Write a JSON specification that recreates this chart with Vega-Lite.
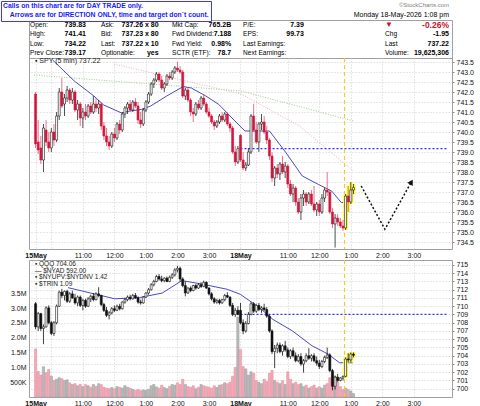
{
"$schema": "https://vega.github.io/schema/vega-lite/v6.json",
"padding": 0,
"background": "white",
"bounds": "flush",
"spacing": 0,
"config": {
 "font": "Liberation Sans",
 "view": {"stroke": "#a0a0a0"},
 "axis": {"labelFont": "Liberation Sans", "labelFontSize": 7, "labelColor": "#111", "gridColor": "#d0d0d0", "gridDash": [1, 2], "domain": false, "title": null, "tickColor": "#888", "labelOverlap": false},
 "legend": {"labelFont": "Liberation Sans", "titleFont": "Liberation Sans"},
 "text": {"font": "Liberation Sans"},
 "title": {"font": "Liberation Sans", "subtitleFont": "Liberation Sans"}
},
"datasets": {
 "info": [
  {"row":"r1","col":"c1","lab":"Open:","val":"739.83"},
  {"row":"r2","col":"c1","lab":"High:","val":"741.41"},
  {"row":"r3","col":"c1","lab":"Low:","val":"734.22"},
  {"row":"r4","col":"c1","lab":"Prev Close:","val":"739.17"},
  {"row":"r1","col":"c2","lab":"Ask:","val":"737.26 x 80"},
  {"row":"r2","col":"c2","lab":"Bid:","val":"737.23 x 80"},
  {"row":"r3","col":"c2","lab":"Last:","val":"737.22 x 10"},
  {"row":"r4","col":"c2","lab":"Optionable:","val":"yes"},
  {"row":"r1","col":"c3","lab":"Mkt Cap:","val":"765.2B"},
  {"row":"r2","col":"c3","lab":"Fwd Dividend:","val":"7.188"},
  {"row":"r3","col":"c3","lab":"Fwd Yield:","val":"0.98%"},
  {"row":"r4","col":"c3","lab":"SCTR (ETF):","val":"78.7"},
  {"row":"r1","col":"c4","lab":"P/E:","val":"7.39"},
  {"row":"r2","col":"c4","lab":"EPS:","val":"99.73"},
  {"row":"r3","col":"c4","lab":"Last Earnings:","val":""},
  {"row":"r4","col":"c4","lab":"Next Earnings:","val":""},
  {"row":"r1","col":"c6","lab":"  ▼","val":"-0.26%"},
  {"row":"r2","col":"c6","lab":"Chg","val":"-1.95"},
  {"row":"r3","col":"c6","lab":"Last","val":"737.22"},
  {"row":"r4","col":"c6","lab":"Volume:","val":"19,625,306"}
 ],
 "ma": [
  {"t":0.54,"p":743.6},{"t":1.23,"p":742.55},{"t":1.85,"p":741.8},{"t":2.16,"p":741.35},{"t":2.73,"p":740.95},{"t":2.99,"p":741.05},{"t":3.36,"p":741.13},{"t":3.65,"p":741.3},{"t":4.16,"p":741.8},{"t":4.68,"p":742.27},{"t":4.94,"p":742.2},{"t":5.4,"p":741.8},{"t":5.81,"p":741.38},{"t":6.23,"p":740.7},{"t":6.64,"p":740.05},{"t":7.42,"p":740.05},{"t":7.94,"p":738.97},{"t":8.46,"p":737.8},{"t":8.97,"p":737.38},{"t":9.39,"p":737.05},{"t":9.7,"p":736.47},{"t":10.06,"p":736.55}
 ],
 "qma": [
  {"t":1.03,"p":712.25},{"t":2.51,"p":710.9},{"t":3.3,"p":711.05},{"t":4.02,"p":711.6},{"t":4.64,"p":713.1},{"t":5.26,"p":712.7},{"t":6.08,"p":712.05},{"t":6.49,"p":711.45},{"t":7.11,"p":709.8},{"t":7.53,"p":708.4},{"t":8.15,"p":707.0},{"t":8.77,"p":705.2},{"t":9.28,"p":704.2},{"t":9.64,"p":703.15},{"t":10.06,"p":703.15}
 ],
 "ma2": [
  {"s":"g","t":-0.05,"p":742.85},{"s":"g","t":6.52,"p":742.05},{"s":"g","t":10.08,"p":740.55},
  {"s":"p","t":2.49,"p":743.4},{"s":"p","t":6.52,"p":741.9},{"s":"p","t":8.37,"p":740.3},{"s":"p","t":10.08,"p":738.05}
 ],
 "arrow": [
  {"k":1,"t":10.33,"p":737.3},{"k":2,"t":11.08,"p":735.14},{"k":3,"t":11.92,"p":737.5}
 ],
 "bars": [
{"t":0,"o":741.9,"h":742,"l":739.2,"c":739.4,"qo":710.3,"qh":710.5,"ql":707.2,"qc":707.5,"v":1620000},
{"t":0.083,"o":739.5,"h":740.6,"l":738.9,"c":739.1,"qo":707.5,"qh":709.3,"ql":707,"qc":709.1,"v":860000},
{"t":0.167,"o":739.2,"h":739.8,"l":738.4,"c":738.6,"qo":709.1,"qh":709.2,"ql":707,"qc":707.3,"v":740000},
{"t":0.25,"o":738.6,"h":740.4,"l":738,"c":740.2,"qo":707.3,"qh":707.8,"ql":705.4,"qc":707.5,"v":1020000},
{"t":0.333,"o":740.1,"h":740.6,"l":739.3,"c":739.5,"qo":707.5,"qh":710,"ql":707.4,"qc":709.8,"v":820000},
{"t":0.417,"o":739.5,"h":740,"l":739,"c":739.2,"qo":709.8,"qh":710.1,"ql":707.8,"qc":708,"v":930000},
{"t":0.5,"o":739.2,"h":740.2,"l":739,"c":740,"qo":708,"qh":708.2,"ql":706.5,"qc":706.7,"v":700000},
{"t":0.583,"o":740,"h":740.4,"l":739.3,"c":739.6,"qo":706.7,"qh":708.2,"ql":706.4,"qc":708,"v":560000},
{"t":0.667,"o":739.6,"h":741,"l":739.5,"c":740.8,"qo":708,"qh":710.2,"ql":707.8,"qc":710,"v":600000},
{"t":0.75,"o":740.8,"h":742.2,"l":740.6,"c":742,"qo":710,"qh":711.9,"ql":709.9,"qc":711.7,"v":650000},
{"t":0.833,"o":742,"h":742.7,"l":741.2,"c":741.3,"qo":711.7,"qh":712.1,"ql":711,"qc":711.3,"v":620000},
{"t":0.917,"o":741.4,"h":741.9,"l":740.8,"c":741.7,"qo":711.3,"qh":711.9,"ql":710.7,"qc":711.8,"v":560000},
{"t":1,"o":741.7,"h":742.3,"l":741.5,"c":742.1,"qo":711.8,"qh":712,"ql":710.4,"qc":710.6,"v":580000},
{"t":1.083,"o":742.1,"h":742.2,"l":741.4,"c":741.6,"qo":710.6,"qh":711.7,"ql":710.4,"qc":711.5,"v":480000},
{"t":1.167,"o":741.6,"h":742.2,"l":741.4,"c":742,"qo":711.5,"qh":711.9,"ql":710.9,"qc":711,"v":420000},
{"t":1.25,"o":742,"h":742.1,"l":741,"c":741.1,"qo":711,"qh":711.5,"ql":710.2,"qc":710.4,"v":450000},
{"t":1.333,"o":741.1,"h":741.6,"l":740.6,"c":741.4,"qo":710.4,"qh":711.3,"ql":710,"qc":711.1,"v":380000},
{"t":1.417,"o":741.4,"h":741.5,"l":740.3,"c":740.7,"qo":711.1,"qh":711.3,"ql":709.9,"qc":710.1,"v":430000},
{"t":1.5,"o":740.7,"h":741.2,"l":740.2,"c":741,"qo":710.1,"qh":710.9,"ql":709.5,"qc":710.7,"v":350000},
{"t":1.583,"o":741,"h":741.4,"l":740.6,"c":740.8,"qo":710.7,"qh":710.9,"ql":709.8,"qc":710,"v":420000},
{"t":1.667,"o":740.8,"h":741.4,"l":740.7,"c":741.3,"qo":710,"qh":711.1,"ql":709.9,"qc":710.9,"v":380000},
{"t":1.75,"o":741.3,"h":741.5,"l":740.9,"c":741,"qo":710.9,"qh":711.4,"ql":710.5,"qc":711.2,"v":330000},
{"t":1.833,"o":741,"h":741.8,"l":740.9,"c":741.4,"qo":711.2,"qh":711.6,"ql":710.6,"qc":710.8,"v":420000},
{"t":1.917,"o":741.4,"h":741.7,"l":741,"c":741.2,"qo":710.8,"qh":711.7,"ql":710.7,"qc":711.5,"v":360000},
{"t":2,"o":741.2,"h":741.6,"l":740.9,"c":741.4,"qo":711.5,"qh":712.3,"ql":711.1,"qc":711.3,"v":450000},
{"t":2.083,"o":741.4,"h":741.5,"l":740.1,"c":740.3,"qo":711.3,"qh":711.4,"ql":710,"qc":710.2,"v":420000},
{"t":2.167,"o":740.3,"h":740.5,"l":739.6,"c":739.8,"qo":710.2,"qh":710.4,"ql":709.3,"qc":709.5,"v":330000},
{"t":2.25,"o":739.8,"h":740.2,"l":739.3,"c":739.5,"qo":709.5,"qh":709.9,"ql":708.7,"qc":708.9,"v":300000},
{"t":2.333,"o":739.5,"h":739.8,"l":739.1,"c":739.3,"qo":708.9,"qh":709.4,"ql":708.4,"qc":709.2,"v":280000},
{"t":2.417,"o":739.3,"h":740,"l":739.2,"c":739.9,"qo":709.2,"qh":709.9,"ql":709,"qc":709.7,"v":320000},
{"t":2.5,"o":739.9,"h":740.2,"l":739.5,"c":739.7,"qo":709.7,"qh":710.1,"ql":709.3,"qc":709.5,"v":280000},
{"t":2.583,"o":739.7,"h":740.5,"l":739.6,"c":740.4,"qo":709.5,"qh":710.2,"ql":709.4,"qc":710,"v":350000},
{"t":2.667,"o":740.4,"h":740.6,"l":739.9,"c":740.1,"qo":710,"qh":710.3,"ql":709.5,"qc":709.7,"v":330000},
{"t":2.75,"o":740.1,"h":741,"l":740,"c":740.9,"qo":709.7,"qh":710.6,"ql":709.6,"qc":710.5,"v":300000},
{"t":2.833,"o":740.9,"h":741.3,"l":740.7,"c":741.2,"qo":710.5,"qh":711,"ql":710.3,"qc":710.8,"v":380000},
{"t":2.917,"o":741.2,"h":741.5,"l":740.9,"c":741.4,"qo":710.8,"qh":711.3,"ql":710.6,"qc":711.1,"v":330000},
{"t":3,"o":741.4,"h":741.6,"l":741,"c":741.1,"qo":711.1,"qh":711.4,"ql":710.7,"qc":710.9,"v":300000},
{"t":3.083,"o":741.1,"h":741.6,"l":741,"c":741.5,"qo":710.9,"qh":711.5,"ql":710.8,"qc":711.3,"v":260000},
{"t":3.167,"o":741.5,"h":741.7,"l":741.2,"c":741.3,"qo":711.3,"qh":711.6,"ql":710.9,"qc":711,"v":230000},
{"t":3.25,"o":741.3,"h":741.5,"l":740.4,"c":740.6,"qo":711,"qh":711.2,"ql":710.3,"qc":710.5,"v":250000},
{"t":3.333,"o":740.6,"h":741,"l":740.2,"c":740.4,"qo":710.5,"qh":710.8,"ql":710.2,"qc":710.4,"v":220000},
{"t":3.417,"o":740.4,"h":741.2,"l":740.3,"c":741.1,"qo":710.4,"qh":711.2,"ql":710.3,"qc":711.1,"v":240000},
{"t":3.5,"o":741.1,"h":741.6,"l":741,"c":741.5,"qo":711.1,"qh":711.7,"ql":711,"qc":711.6,"v":220000},
{"t":3.583,"o":741.5,"h":742,"l":741.4,"c":741.9,"qo":711.6,"qh":712.2,"ql":711.4,"qc":712,"v":260000},
{"t":3.667,"o":741.9,"h":742.5,"l":741.8,"c":742.4,"qo":712,"qh":712.8,"ql":711.9,"qc":712.6,"v":380000},
{"t":3.75,"o":742.4,"h":742.7,"l":742.2,"c":742.6,"qo":712.6,"qh":713.2,"ql":712.4,"qc":713,"v":420000},
{"t":3.833,"o":742.6,"h":743,"l":742.5,"c":742.9,"qo":713,"qh":713.8,"ql":712.9,"qc":713.6,"v":340000},
{"t":3.917,"o":742.9,"h":743,"l":742.5,"c":742.6,"qo":713.6,"qh":713.9,"ql":713.1,"qc":713.3,"v":300000},
{"t":4,"o":742.6,"h":742.8,"l":742.1,"c":742.2,"qo":713.3,"qh":713.7,"ql":712.9,"qc":713.1,"v":400000},
{"t":4.083,"o":742.2,"h":742.5,"l":742,"c":742.4,"qo":713.1,"qh":713.5,"ql":712.9,"qc":713.4,"v":320000},
{"t":4.167,"o":742.4,"h":742.9,"l":742.3,"c":742.8,"qo":713.4,"qh":713.6,"ql":712.9,"qc":713,"v":280000},
{"t":4.25,"o":742.8,"h":743,"l":742.6,"c":742.7,"qo":713,"qh":713.7,"ql":712.9,"qc":713.5,"v":360000},
{"t":4.333,"o":742.7,"h":743.1,"l":742.6,"c":743,"qo":713.5,"qh":714,"ql":713.3,"qc":713.8,"v":420000},
{"t":4.417,"o":743,"h":743.3,"l":742.9,"c":743.2,"qo":713.8,"qh":714.6,"ql":713.6,"qc":714.4,"v":400000},
{"t":4.5,"o":743.2,"h":743.5,"l":743,"c":743.1,"qo":714.4,"qh":714.9,"ql":714.1,"qc":714.6,"v":480000},
{"t":4.583,"o":743.1,"h":743.3,"l":742.9,"c":743,"qo":714.6,"qh":714.8,"ql":713,"qc":713.3,"v":420000},
{"t":4.667,"o":743,"h":743.1,"l":741.7,"c":741.8,"qo":713.3,"qh":713.5,"ql":712.3,"qc":712.5,"v":600000},
{"t":4.75,"o":741.8,"h":742.2,"l":741.6,"c":742.1,"qo":712.5,"qh":713,"ql":711.2,"qc":711.6,"v":420000},
{"t":4.833,"o":742.1,"h":742.2,"l":741.5,"c":741.6,"qo":711.6,"qh":712.3,"ql":711.5,"qc":712.2,"v":350000},
{"t":4.917,"o":741.6,"h":741.7,"l":740.8,"c":741,"qo":712.2,"qh":712.4,"ql":711.7,"qc":711.9,"v":330000},
{"t":5,"o":741,"h":741.2,"l":740.5,"c":740.9,"qo":711.9,"qh":712.6,"ql":711.8,"qc":712.5,"v":380000},
{"t":5.083,"o":740.9,"h":741.5,"l":740.8,"c":741.4,"qo":712.5,"qh":712.7,"ql":712,"qc":712.2,"v":280000},
{"t":5.167,"o":741.4,"h":741.6,"l":741.1,"c":741.2,"qo":712.2,"qh":712.8,"ql":712.1,"qc":712.6,"v":330000},
{"t":5.25,"o":741.2,"h":741.8,"l":741.1,"c":741.7,"qo":712.6,"qh":712.9,"ql":712.2,"qc":712.4,"v":420000},
{"t":5.333,"o":741.7,"h":741.9,"l":741.3,"c":741.4,"qo":712.4,"qh":713.1,"ql":712.3,"qc":712.9,"v":380000},
{"t":5.417,"o":741.4,"h":741.5,"l":740.9,"c":741,"qo":712.9,"qh":713,"ql":712.1,"qc":712.2,"v":350000},
{"t":5.5,"o":741,"h":741.2,"l":740.7,"c":740.8,"qo":712.2,"qh":712.3,"ql":711.3,"qc":711.5,"v":330000},
{"t":5.583,"o":740.8,"h":740.9,"l":740.4,"c":740.5,"qo":711.5,"qh":711.7,"ql":710.7,"qc":710.9,"v":300000},
{"t":5.667,"o":740.5,"h":740.6,"l":740.1,"c":740.3,"qo":710.9,"qh":711.1,"ql":710.3,"qc":710.5,"v":380000},
{"t":5.75,"o":740.3,"h":740.6,"l":740.2,"c":740.5,"qo":710.5,"qh":710.9,"ql":710.3,"qc":710.7,"v":320000},
{"t":5.833,"o":740.5,"h":740.9,"l":740.4,"c":740.8,"qo":710.7,"qh":710.9,"ql":710.2,"qc":710.4,"v":400000},
{"t":5.917,"o":740.8,"h":741,"l":740.5,"c":740.6,"qo":710.4,"qh":710.9,"ql":710.3,"qc":710.8,"v":420000},
{"t":6,"o":740.6,"h":741,"l":740.5,"c":740.9,"qo":710.8,"qh":711.5,"ql":710.6,"qc":711.3,"v":480000},
{"t":6.083,"o":740.9,"h":741,"l":740.3,"c":740.4,"qo":711.3,"qh":711.7,"ql":711,"qc":711.1,"v":450000},
{"t":6.167,"o":740.4,"h":740.5,"l":740,"c":740.2,"qo":711.1,"qh":711.2,"ql":709.9,"qc":710.1,"v":500000},
{"t":6.25,"o":740.2,"h":740.3,"l":738.9,"c":739,"qo":710.1,"qh":710.4,"ql":708.8,"qc":709,"v":700000},
{"t":6.333,"o":739,"h":739.3,"l":738.3,"c":738.5,"qo":709,"qh":709.8,"ql":708.7,"qc":709.5,"v":1000000},
{"t":6.417,"o":738.5,"h":739.3,"l":738.4,"c":739.17,"qo":709.5,"qh":710,"ql":708.9,"qc":709,"v":2700000},
{"t":6.5,"o":739.83,"h":739.9,"l":738.5,"c":738.6,"qo":709.5,"qh":710.4,"ql":707.8,"qc":708,"v":1600000},
{"t":6.583,"o":738.6,"h":739,"l":738.1,"c":738.2,"qo":708,"qh":708.4,"ql":706.6,"qc":707,"v":1030000},
{"t":6.667,"o":738.2,"h":738.5,"l":738.05,"c":738.35,"qo":707,"qh":708.2,"ql":706.8,"qc":707.9,"v":950000},
{"t":6.75,"o":738.35,"h":739.2,"l":738.3,"c":739,"qo":707.9,"qh":709.3,"ql":707.8,"qc":709,"v":740000},
{"t":6.833,"o":739,"h":740.9,"l":738.9,"c":740.8,"qo":709,"qh":710.5,"ql":708.9,"qc":710.3,"v":850000},
{"t":6.917,"o":740.8,"h":741.41,"l":740,"c":740.1,"qo":710.3,"qh":710.5,"ql":709.2,"qc":709.4,"v":800000},
{"t":7,"o":740.1,"h":740.5,"l":739.4,"c":739.5,"qo":709.4,"qh":710.3,"ql":709.2,"qc":710.1,"v":560000},
{"t":7.083,"o":739.5,"h":740.5,"l":739,"c":740.4,"qo":710.1,"qh":710.4,"ql":709.4,"qc":709.6,"v":500000},
{"t":7.167,"o":740.4,"h":740.9,"l":740.1,"c":740.5,"qo":709.6,"qh":710,"ql":709.2,"qc":709.8,"v":450000},
{"t":7.25,"o":740.5,"h":740.8,"l":739.9,"c":740,"qo":709.8,"qh":710.3,"ql":709.4,"qc":709.6,"v":600000},
{"t":7.333,"o":740,"h":740.3,"l":739.4,"c":739.6,"qo":709.6,"qh":709.9,"ql":708.6,"qc":708.8,"v":520000},
{"t":7.417,"o":739.6,"h":739.7,"l":738.6,"c":738.8,"qo":708.8,"qh":709,"ql":706.8,"qc":707,"v":800000},
{"t":7.5,"o":738.8,"h":739,"l":737.5,"c":737.7,"qo":707,"qh":707.2,"ql":704.2,"qc":704.5,"v":900000},
{"t":7.583,"o":737.7,"h":738.3,"l":737.3,"c":738.2,"qo":704.5,"qh":705.3,"ql":702.5,"qc":704.9,"v":560000},
{"t":7.667,"o":738.2,"h":738.4,"l":737.7,"c":737.9,"qo":704.9,"qh":705.6,"ql":704.3,"qc":705.3,"v":500000},
{"t":7.75,"o":737.9,"h":738.5,"l":737.6,"c":738.4,"qo":705.3,"qh":705.6,"ql":704.3,"qc":704.5,"v":450000},
{"t":7.833,"o":738.4,"h":738.8,"l":737.9,"c":738,"qo":704.5,"qh":705.4,"ql":704,"qc":705.2,"v":550000},
{"t":7.917,"o":738,"h":738.5,"l":737.7,"c":738.3,"qo":705.2,"qh":705.8,"ql":704.5,"qc":704.7,"v":420000},
{"t":8,"o":738.3,"h":738.4,"l":737.2,"c":737.4,"qo":704.7,"qh":705,"ql":703.7,"qc":703.9,"v":850000},
{"t":8.083,"o":737.4,"h":737.6,"l":736.8,"c":736.9,"qo":703.9,"qh":704.8,"ql":703.6,"qc":704.6,"v":600000},
{"t":8.167,"o":736.9,"h":737.4,"l":736.5,"c":737.2,"qo":704.6,"qh":705,"ql":703.8,"qc":704,"v":450000},
{"t":8.25,"o":737.2,"h":737.3,"l":736.3,"c":736.5,"qo":704,"qh":704.4,"ql":703.2,"qc":703.4,"v":500000},
{"t":8.333,"o":736.5,"h":736.7,"l":735.9,"c":736,"qo":703.4,"qh":704.2,"ql":703.2,"qc":703.9,"v":420000},
{"t":8.417,"o":736,"h":736.9,"l":735.6,"c":736.7,"qo":703.9,"qh":704.3,"ql":702.8,"qc":703,"v":450000},
{"t":8.5,"o":736.7,"h":737.1,"l":736.3,"c":736.9,"qo":703,"qh":703.6,"ql":701.95,"qc":703.4,"v":350000},
{"t":8.583,"o":736.9,"h":737,"l":736.3,"c":736.5,"qo":703.4,"qh":704.3,"ql":703.2,"qc":704,"v":400000},
{"t":8.667,"o":736.5,"h":737,"l":736.4,"c":736.9,"qo":704,"qh":704.9,"ql":703.5,"qc":703.7,"v":300000},
{"t":8.75,"o":736.9,"h":737.1,"l":736.3,"c":736.4,"qo":703.7,"qh":704.2,"ql":703.3,"qc":704,"v":350000},
{"t":8.833,"o":736.4,"h":737.3,"l":736,"c":736.1,"qo":704,"qh":704.3,"ql":703.2,"qc":703.4,"v":400000},
{"t":8.917,"o":736.1,"h":736.5,"l":735.8,"c":736.4,"qo":703.4,"qh":703.9,"ql":702.8,"qc":703.1,"v":300000},
{"t":9,"o":736.4,"h":736.6,"l":735.8,"c":736,"qo":703.1,"qh":703.5,"ql":702.4,"qc":702.7,"v":350000},
{"t":9.083,"o":736,"h":736.9,"l":735.9,"c":736.7,"qo":702.7,"qh":703.5,"ql":702.5,"qc":703.3,"v":300000},
{"t":9.167,"o":736.7,"h":737.2,"l":736.5,"c":737.1,"qo":703.3,"qh":704,"ql":703.1,"qc":703.8,"v":400000},
{"t":9.25,"o":737.1,"h":738,"l":736.8,"c":737,"qo":703.8,"qh":705,"ql":703.6,"qc":704.1,"v":450000},
{"t":9.333,"o":737,"h":737.1,"l":735.9,"c":736,"qo":704.1,"qh":704.3,"ql":702,"qc":702.2,"v":650000},
{"t":9.417,"o":736,"h":736.2,"l":735.2,"c":735.4,"qo":702.2,"qh":702.4,"ql":699.8,"qc":700.3,"v":800000},
{"t":9.5,"o":735.4,"h":735.9,"l":734.22,"c":735.7,"qo":700.3,"qh":701.6,"ql":699.9,"qc":701.4,"v":700000},
{"t":9.583,"o":735.7,"h":735.9,"l":735.3,"c":735.5,"qo":701.4,"qh":701.8,"ql":700.8,"qc":701,"v":500000},
{"t":9.667,"o":735.5,"h":735.7,"l":735.2,"c":735.3,"qo":701,"qh":701.4,"ql":700.9,"qc":701.3,"v":350000},
{"t":9.75,"o":735.3,"h":735.6,"l":735.05,"c":735.2,"qo":701.3,"qh":701.6,"ql":701,"qc":701.5,"v":250000},
{"t":9.833,"o":735.2,"h":736.9,"l":735.1,"c":736.8,"qo":701.5,"qh":703.8,"ql":701.4,"qc":703.6,"v":300000},
{"t":9.917,"o":736.8,"h":737.3,"l":736,"c":736.5,"qo":703.6,"qh":704.3,"ql":703.2,"qc":703.5,"v":250000},
{"t":10,"o":736.5,"h":737.5,"l":736.4,"c":737.1,"qo":703.5,"qh":704.4,"ql":703.2,"qc":704.2,"v":200000},
{"t":10.083,"o":737.1,"h":737.4,"l":736.9,"c":737.22,"qo":704.2,"qh":704.4,"ql":703.8,"qc":704.06,"v":120000}
 ]
},
"vconcat": [
 {
  "width": 423, "height": 38,
  "data": {"name": "info"},
  "title": {"text": "©StockCharts.com", "subtitle": "Monday 18-May-2026 1:08 pm", "anchor": "end", "fontSize": 6, "fontWeight": "normal", "color": "#808080", "subtitleFontSize": 7, "subtitleColor": "#000", "subtitlePadding": 3, "offset": 2, "dx": -3},
  "layer": [
   {"mark": {"type": "text", "align": "left", "baseline": "middle", "fontSize": 6.6},
    "encoding": {
     "x": {"field": "col", "type": "nominal", "scale": {"type": "point", "domain": ["c1","c2","c3","c4","c5","c6"], "range": [1, 356], "padding": 0}, "axis": null},
     "y": {"field": "row", "type": "nominal", "scale": {"type": "point", "domain": ["r1","r2","r3","r4"], "padding": 0.61}, "axis": null},
     "text": {"field": "lab"},
     "size": {"condition": {"test": "datum.col == 'c6' && datum.row == 'r1'", "value": 8}, "value": 6.6},
     "color": {"condition": {"test": "datum.col == 'c6' && datum.row == 'r1'", "value": "#c8102e"}, "value": "#000"}
    }},
   {"mark": {"type": "text", "align": "right", "baseline": "middle", "fontWeight": "bold"},
    "encoding": {
     "x": {"field": "col", "type": "nominal", "scale": {"type": "point", "domain": ["c1","c2","c3","c4","c5","c6"], "range": [57, 420], "padding": 0}, "axis": null},
     "y": {"field": "row", "type": "nominal", "scale": {"type": "point", "domain": ["r1","r2","r3","r4"], "padding": 0.61}, "axis": null},
     "text": {"field": "val"},
     "size": {"condition": {"test": "datum.val == '-0.26%'", "value": 8.5}, "value": 7},
     "color": {"condition": {"test": "datum.val == '-0.26%'", "value": "#c8102e"}, "value": "#000"}
    }},
   {"data": {"values": [{"note": "Arrows are for DIRECTION ONLY, time and target don`t count."}]},
    "mark": {"type": "text", "text": ""},
    "encoding": {"color": {"field": "note", "type": "nominal", "scale": {"range": ["#1a1aff"]},
      "legend": {"title": "Calls on this chart are for DAY TRADE only.", "orient": "none", "legendX": -28, "legendY": -19, "padding": 2, "strokeColor": "#3a3aff", "fillColor": "white", "titleFontSize": 6.8, "titleFontWeight": "bold", "titleColor": "#1a1aff", "titlePadding": 2, "titleLimit": 400, "labelFontSize": 6.8, "labelFontWeight": "bold", "labelColor": "#1a1aff", "labelLimit": 400, "labelOffset": 0, "symbolSize": 0, "symbolOpacity": 0, "symbolStrokeWidth": 0}}}}
  ],
  "resolve": {"scale": {"x": "independent"}}
 },
 {
  "width": 423, "height": 191,
  "layer": [
   {"data": {"name": "ma2"}, "transform": [{"filter": "datum.s == 'g'"}], "mark": {"type": "line", "strokeWidth": 1, "strokeDash": [1, 1.5], "color": "#9ccc93", "clip": true},
    "encoding": {
     "x": {"field": "t", "type": "quantitative", "scale": {"domain": [-0.05, 13.05], "nice": false, "zero": false},
      "axis": {"values": [0,0.5,1.5,2.5,3.5,4.5,5.5,6.5,7,8,9,10,11,12], "tickCount": 60, "labelExpr": "datum.value == 0 ? '15May' : datum.value == 6.5 ? '18May' : (datum.value == 0.5 || datum.value == 7) ? '' : ((9.5 + datum.value % 6.5) > 12 ? (9.5 + datum.value % 6.5 - 12) : (9.5 + datum.value % 6.5)) + ':00'", "grid": true, "ticks": false, "labelPadding": 2, "labelOverlap": false, "labelFlush": false, "labelFontWeight": {"condition": {"test": "datum.value == 0 || datum.value == 6.5", "value": "bold"}, "value": "normal"}}},
     "y": {"field": "p", "type": "quantitative", "scale": {"domain": [734.15, 743.7], "nice": false, "zero": false},
      "axis": {"orient": "right", "values": [734.5,735,735.5,736,736.5,737,737.5,738,738.5,739,739.5,740,740.5,741,741.5,742,742.5,743,743.5], "tickCount": 60, "format": ".1f", "grid": true, "tickSize": 2, "labelPadding": 2, "labelOverlap": false}}
    }},
   {"data": {"name": "ma2"}, "transform": [{"filter": "datum.s == 'p'"}], "mark": {"type": "line", "strokeWidth": 1, "strokeDash": [1, 1.5], "color": "#f0b0bf", "clip": true},
    "encoding": {"x": {"field": "t", "type": "quantitative"}, "y": {"field": "p", "type": "quantitative"}}},
   {"data": {"name": "ma"}, "mark": {"type": "line", "color": "#4a4ac4", "strokeWidth": 1, "clip": true},
    "encoding": {"x": {"field": "t", "type": "quantitative"}, "y": {"field": "p", "type": "quantitative"}}},
   {"data": {"values": [{"t": 6.5, "t2": 13.05, "p": 739.17}]}, "mark": {"type": "rule", "color": "#3535ee", "strokeDash": [2, 2], "strokeWidth": 1.2},
    "encoding": {"x": {"field": "t", "type": "quantitative"}, "x2": {"field": "t2"}, "y": {"field": "p", "type": "quantitative"}}},
   {"data": {"values": [{"t": 9.8}]}, "mark": {"type": "rule", "color": "#f8c630", "strokeDash": [4, 3], "strokeWidth": 1.2},
    "encoding": {"x": {"field": "t", "type": "quantitative"}}},
   {"data": {"name": "bars"}, "transform": [{"filter": "datum.t > 9.8"}], "mark": {"type": "rule", "color": "#ffff40", "strokeWidth": 3.5},
    "encoding": {"x": {"field": "t", "type": "quantitative"}, "y": {"field": "l", "type": "quantitative"}, "y2": {"field": "h"}}},
   {"data": {"name": "bars"}, "transform": [{"filter": "datum.t > 9.8"}], "mark": {"type": "bar", "width": 2, "color": "#ffff40", "stroke": "#ffff40", "strokeWidth": 3},
    "encoding": {"x": {"field": "t", "type": "quantitative"}, "y": {"field": "o", "type": "quantitative"}, "y2": {"field": "c"}}},
   {"data": {"name": "bars"}, "mark": {"type": "rule", "strokeWidth": 0.8},
    "encoding": {"x": {"field": "t", "type": "quantitative"}, "y": {"field": "l", "type": "quantitative"}, "y2": {"field": "h"},
     "color": {"condition": {"test": "datum.c < datum.o", "value": "#e0506e"}, "value": "#222"}}},
   {"data": {"name": "bars"}, "mark": {"type": "bar", "width": 2, "strokeWidth": 0.6},
    "encoding": {"x": {"field": "t", "type": "quantitative"}, "y": {"field": "o", "type": "quantitative"}, "y2": {"field": "c"},
     "fill": {"condition": {"test": "datum.c < datum.o", "value": "#d3163c"}, "value": "white"},
     "stroke": {"condition": {"test": "datum.c < datum.o", "value": "#d3163c"}, "value": "#111"}}},
   {"data": {"name": "arrow"}, "mark": {"type": "line", "color": "#111", "strokeDash": [2, 2], "strokeWidth": 1.5},
    "encoding": {"x": {"field": "t", "type": "quantitative"}, "y": {"field": "p", "type": "quantitative"}, "order": {"field": "k"}}},
   {"data": {"name": "arrow"}, "transform": [{"filter": "datum.k == 3"}], "mark": {"type": "point", "shape": "triangle-up", "filled": true, "color": "#111", "size": 40, "angle": 30, "opacity": 1},
    "encoding": {"x": {"field": "t", "type": "quantitative"}, "y": {"field": "p", "type": "quantitative"}}},
   {"data": {"values": [{}]}, "mark": {"type": "text", "text": "▪ SPY (5 min) 737.22", "align": "left", "baseline": "middle", "fontSize": 7, "color": "#222"},
    "encoding": {"x": {"datum": -0.02, "type": "quantitative"}, "y": {"datum": 743.55, "type": "quantitative"}}}
  ]
 },
 {
  "width": 423, "height": 11,
  "data": {"values": []},
  "mark": "point",
  "view": {"stroke": null}
 },
 {
  "width": 423, "height": 137,
  "layer": [
   {"data": {"name": "bars"}, "mark": {"type": "bar", "width": 2.3, "strokeWidth": 0.5},
    "encoding": {
     "x": {"field": "t", "type": "quantitative", "scale": {"domain": [-0.05, 13.05], "nice": false, "zero": false},
      "axis": {"values": [0,0.5,1.5,2.5,3.5,4.5,5.5,6.5,7,8,9,10,11,12], "tickCount": 60, "labelExpr": "datum.value == 0 ? '15May' : datum.value == 6.5 ? '18May' : (datum.value == 0.5 || datum.value == 7) ? '' : ((9.5 + datum.value % 6.5) > 12 ? (9.5 + datum.value % 6.5 - 12) : (9.5 + datum.value % 6.5)) + ':00'", "grid": true, "ticks": false, "labelPadding": 2, "labelOverlap": false, "labelFlush": false, "labelFontWeight": {"condition": {"test": "datum.value == 0 || datum.value == 6.5", "value": "bold"}, "value": "normal"}}},
     "y": {"field": "v", "type": "quantitative", "scale": {"domain": [0, 4620000], "nice": false},
      "axis": {"orient": "left", "values": [500000,1000000,1500000,2000000,2500000,3000000,3500000], "tickCount": 60, "labelExpr": "datum.value < 1000000 ? format(datum.value/1000, 'd') + 'K' : format(datum.value/1000000, '.1f') + 'M'", "grid": false, "ticks": false, "labelPadding": 3, "labelOverlap": false}},
     "fill": {"condition": {"test": "datum.c < datum.o", "value": "#f2aab8"}, "value": "#b9b9b9"},
     "stroke": {"condition": {"test": "datum.c < datum.o", "value": "#e58c9e"}, "value": "#9a9a9a"}
    }},
   {"layer": [
     {"data": {"name": "qma"}, "mark": {"type": "line", "color": "#4a4ac4", "strokeWidth": 1, "clip": true},
      "encoding": {"x": {"field": "t", "type": "quantitative"},
       "y": {"field": "p", "type": "quantitative", "scale": {"domain": [699.0, 715.6], "nice": false, "zero": false},
        "axis": {"orient": "right", "values": [700,701,702,703,704,705,706,707,708,709,710,711,712,713,714,715], "tickCount": 60, "format": "d", "grid": true, "tickSize": 2, "labelPadding": 2, "labelOverlap": false}}}},
     {"data": {"values": [{"t": 6.5, "t2": 13.05, "p": 709}]}, "mark": {"type": "rule", "color": "#3535ee", "strokeDash": [2, 2], "strokeWidth": 1.2},
      "encoding": {"x": {"field": "t", "type": "quantitative"}, "x2": {"field": "t2"}, "y": {"field": "p", "type": "quantitative"}}},
     {"data": {"values": [{"t": 9.8}]}, "mark": {"type": "rule", "color": "#f8c630", "strokeDash": [4, 3], "strokeWidth": 1.2},
      "encoding": {"x": {"field": "t", "type": "quantitative"}}},
     {"data": {"name": "bars"}, "transform": [{"filter": "datum.t > 9.8"}], "mark": {"type": "rule", "color": "#ffff40", "strokeWidth": 3.5},
      "encoding": {"x": {"field": "t", "type": "quantitative"}, "y": {"field": "ql", "type": "quantitative"}, "y2": {"field": "qh"}}},
     {"data": {"name": "bars"}, "transform": [{"filter": "datum.t > 9.8"}], "mark": {"type": "bar", "width": 2, "color": "#ffff40", "stroke": "#ffff40", "strokeWidth": 3},
      "encoding": {"x": {"field": "t", "type": "quantitative"}, "y": {"field": "qo", "type": "quantitative"}, "y2": {"field": "qc"}}},
     {"data": {"name": "bars"}, "mark": {"type": "rule", "strokeWidth": 0.8, "color": "#111"},
      "encoding": {"x": {"field": "t", "type": "quantitative"}, "y": {"field": "ql", "type": "quantitative"}, "y2": {"field": "qh"}}},
     {"data": {"name": "bars"}, "mark": {"type": "bar", "width": 2, "strokeWidth": 0.6, "stroke": "#111"},
      "encoding": {"x": {"field": "t", "type": "quantitative"}, "y": {"field": "qo", "type": "quantitative"}, "y2": {"field": "qc"},
       "fill": {"condition": {"test": "datum.qc < datum.qo", "value": "#111"}, "value": "white"}}},
     {"data": {"values": [{}]}, "mark": {"type": "text", "text": ["▪ QQQ 704.06", "— $NYAD 592.00", "▪ $NYUPV:$NYDNV 1.42", "▪ $TRIN 1.09"], "align": "left", "baseline": "top", "fontSize": 6.5, "lineHeight": 6.6, "color": "#222"},
      "encoding": {"x": {"datum": -0.02, "type": "quantitative"}, "y": {"datum": 715.45, "type": "quantitative"}}}
   ]}
  ],
  "resolve": {"scale": {"y": "independent"}}
 }
]
}
